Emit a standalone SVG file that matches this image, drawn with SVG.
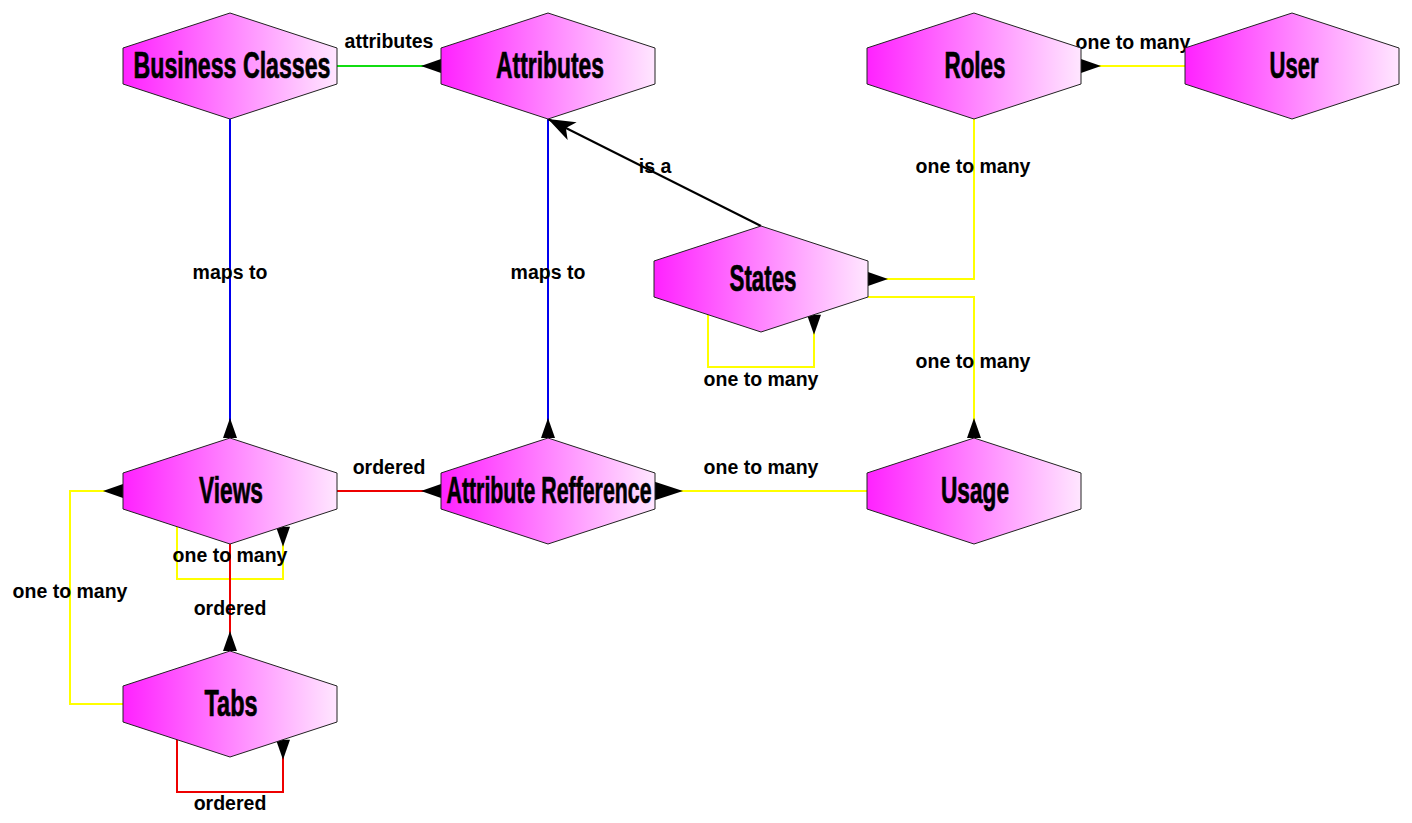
<svg xmlns="http://www.w3.org/2000/svg" width="1412" height="823" viewBox="0 0 1412 823">
<defs>
<linearGradient id="g" x1="0" y1="0" x2="1" y2="0">
<stop offset="0" stop-color="#ff22ff"/>
<stop offset="1" stop-color="#ffe6ff"/>
</linearGradient>
<polygon id="hex" points="0,-53 107,-18 107,18 0,53 -107,18 -107,-18" fill="url(#g)" stroke="#222" stroke-width="1"/>
<marker id="inv" markerUnits="userSpaceOnUse" markerWidth="24" markerHeight="18" viewBox="-21 -9 24 18" refX="0" refY="0" orient="auto" overflow="visible">
<polygon points="0,-7 0,7 -20,0" fill="#000"/>
</marker>
<marker id="invbig" markerUnits="userSpaceOnUse" markerWidth="32" markerHeight="22" viewBox="-30 -11 32 22" refX="0" refY="0" orient="auto" overflow="visible">
<polygon points="1,-9.5 1,9.5 -28,0" fill="#000"/>
</marker>
<marker id="vee" markerUnits="userSpaceOnUse" markerWidth="30" markerHeight="24" viewBox="-28 -12 30 24" refX="0" refY="0" orient="auto" overflow="visible">
<polygon points="0,0 -27,-10 -20,0 -27,10" fill="#000"/>
</marker>
</defs>
<style>
.e{fill:none;stroke-width:2}
.y{stroke:#ffff00}.r{stroke:#ee0000}.b{stroke:#0000ee}.gr{stroke:#11dd11}.k{stroke:#000}
.lbl{font-family:"Liberation Sans",Arial,sans-serif;font-weight:bold;font-size:19.5px;fill:#000;text-anchor:middle}
.nt{font-family:"Liberation Sans Narrow","Liberation Sans",Arial,sans-serif;font-weight:bold;font-size:37px;fill:#000;stroke:#000;stroke-width:0.7px;text-anchor:middle}
</style>
<rect width="1412" height="823" fill="#fff"/>
<g id="connectors">
<path class="e gr" d="M337,66 L441,66" marker-end="url(#inv)"/>
<path class="e b" d="M230,119 L230,438" marker-end="url(#inv)"/>
<path class="e b" d="M548,119 L548,438" marker-end="url(#inv)"/>
<path class="e k" d="M761,226 L548,119" marker-end="url(#vee)"/>
<path class="e y" d="M1185,66 L1081,66" marker-end="url(#inv)"/>
<path class="e y" d="M974,119 L974,279 L868,279" marker-end="url(#inv)"/>
<path class="e y" d="M868,297 L974,297 L974,438" marker-end="url(#inv)"/>
<path class="e y" d="M708,314.5 L708,367 L814,367 L814,314.7" marker-end="url(#inv)"/>
<path class="e r" d="M337,491 L441,491" marker-end="url(#inv)"/>
<path class="e y" d="M867,491 L655,491" marker-end="url(#invbig)"/>
<path class="e y" d="M177,526.7 L177,579 L283,579 L283,526.7" marker-end="url(#inv)"/>
<path class="e r" d="M230,544 L230,651" marker-end="url(#inv)"/>
<path class="e y" d="M123,704 L70,704 L70,491 L123,491" marker-end="url(#inv)"/>
<path class="e r" d="M177,739.7 L177,792 L283,792 L283,739.7" marker-end="url(#inv)"/>
<text class="lbl" x="389" y="48">attributes</text>
<text class="lbl" x="1133" y="49">one to many</text>
<text class="lbl" x="230" y="279">maps to</text>
<text class="lbl" x="548" y="279">maps to</text>
<text class="lbl" x="655" y="173">is a</text>
<text class="lbl" x="973" y="173">one to many</text>
<text class="lbl" x="973" y="368">one to many</text>
<text class="lbl" x="761" y="386">one to many</text>
<text class="lbl" x="389" y="474">ordered</text>
<text class="lbl" x="761" y="474">one to many</text>
<text class="lbl" x="230" y="562">one to many</text>
<text class="lbl" x="70" y="598">one to many</text>
<text class="lbl" x="230" y="615">ordered</text>
<text class="lbl" x="230" y="810">ordered</text>
</g>
<g id="node-business-classes" transform="translate(230,66)"><use href="#hex"/><text class="nt" x="2" y="11.5" textLength="197" lengthAdjust="spacingAndGlyphs">Business Classes</text></g>
<g id="node-attributes" transform="translate(548,66)"><use href="#hex"/><text class="nt" x="2" y="11.5" textLength="108" lengthAdjust="spacingAndGlyphs">Attributes</text></g>
<g id="node-roles" transform="translate(974,66)"><use href="#hex"/><text class="nt" x="1" y="11.5" textLength="61" lengthAdjust="spacingAndGlyphs">Roles</text></g>
<g id="node-user" transform="translate(1292,66)"><use href="#hex"/><text class="nt" x="2" y="11.5" textLength="49" lengthAdjust="spacingAndGlyphs">User</text></g>
<g id="node-states" transform="translate(761,279)"><use href="#hex"/><text class="nt" x="2" y="11.5" textLength="67" lengthAdjust="spacingAndGlyphs">States</text></g>
<g id="node-views" transform="translate(230,491)"><use href="#hex"/><text class="nt" x="1" y="11.5" textLength="64" lengthAdjust="spacingAndGlyphs">Views</text></g>
<g id="node-attribute-refference" transform="translate(548,491)"><use href="#hex"/><text class="nt" x="1" y="11.5" textLength="205" lengthAdjust="spacingAndGlyphs">Attribute Refference</text></g>
<g id="node-usage" transform="translate(974,491)"><use href="#hex"/><text class="nt" x="1" y="11.5" textLength="68" lengthAdjust="spacingAndGlyphs">Usage</text></g>
<g id="node-tabs" transform="translate(230,704)"><use href="#hex"/><text class="nt" x="1" y="11.5" textLength="53" lengthAdjust="spacingAndGlyphs">Tabs</text></g>
</svg>
